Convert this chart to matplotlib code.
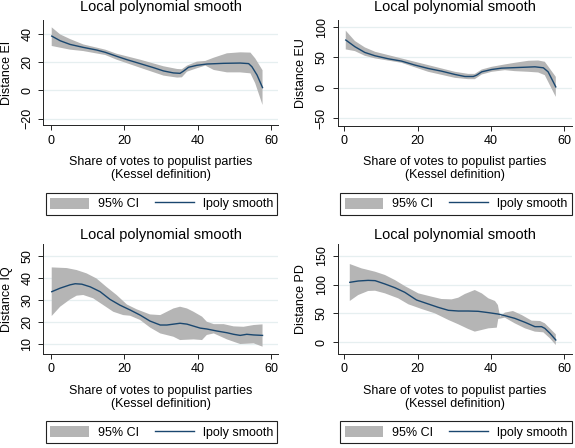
import numpy as np
import matplotlib
matplotlib.use("Agg")
import matplotlib.pyplot as plt

plt.rcParams['font.family'] = ['Liberation Sans', 'DejaVu Sans']

# --- data (x = share of votes, y = distance) ---
ei_x = [0.2, 2.5, 5.2, 8.8, 12.5, 14.8, 17.9, 20.7, 24.3, 28.0, 30.7, 33.4, 35.2, 36.2, 37.5, 39.8, 42.5, 47.1, 51.6, 53.9, 54.8, 56.2, 57.7]
ei_fit = [38.4, 35.1, 32.5, 30.4, 28.5, 26.9, 24.1, 21.7, 18.9, 16.0, 13.7, 12.3, 12.0, 13.7, 16.3, 17.7, 18.6, 19.1, 19.3, 18.9, 16.7, 10.8, 1.9]
ei_ci_x = [0.2, 2.5, 5.2, 8.8, 14.8, 17.9, 24.3, 30.7, 34.4, 35.7, 37.1, 39.8, 42.1, 44.4, 48.0, 51.6, 54.4, 55.7, 57.7]
ei_hi = [44.6, 39.6, 36.3, 32.5, 28.8, 25.9, 21.7, 17.0, 15.1, 14.9, 17.5, 20.3, 20.8, 23.1, 26.2, 26.9, 26.7, 22.6, 14.2]
ei_lo = [31.4, 30.2, 28.8, 27.8, 25.0, 21.7, 16.0, 10.4, 9.0, 9.2, 13.2, 15.6, 17.5, 14.4, 12.7, 12.7, 12.0, 5.0, -10.4]

eu_x = [0.4, 2.9, 5.6, 8.4, 12.0, 15.6, 19.3, 22.9, 26.5, 30.2, 32.9, 35.2, 36.1, 37.5, 40.2, 42.9, 47.5, 52.0, 54.3, 55.6, 57.7]
eu_fit = [78.6, 67.6, 58.2, 52.7, 47.8, 44.0, 37.4, 31.9, 27.5, 22.0, 18.7, 18.7, 20.9, 26.4, 30.2, 32.4, 33.5, 34.6, 33.0, 26.4, 1.6]
eu_ci_x = [0.4, 2.9, 5.6, 8.4, 15.6, 22.9, 30.2, 33.8, 35.6, 37.5, 40.2, 43.8, 46.5, 50.2, 52.9, 54.7, 57.7]
eu_hi = [94.0, 77.0, 66.5, 59.3, 48.4, 37.4, 26.4, 23.0, 23.0, 30.2, 34.6, 38.5, 41.2, 44.5, 45.0, 42.9, 18.1]
eu_lo = [63.2, 60.4, 52.7, 48.4, 41.2, 26.4, 16.5, 14.3, 14.3, 22.0, 26.4, 29.1, 27.5, 26.4, 25.3, 20.9, -14.8]

iq_x = [0.2, 2.5, 5.2, 6.6, 8.4, 10.7, 13.4, 16.1, 18.8, 21.6, 24.3, 27.0, 29.8, 31.6, 33.4, 35.2, 37.1, 38.9, 40.7, 42.5, 45.2, 48.0, 49.8, 51.6, 53.4, 55.3, 57.7]
iq_fit = [33.7, 35.3, 36.8, 37.3, 37.1, 35.9, 33.7, 30.2, 27.6, 25.4, 23.1, 20.4, 18.6, 18.6, 19.0, 19.4, 19.0, 18.1, 17.2, 16.8, 15.9, 15.1, 14.4, 13.9, 14.4, 14.1, 13.9]
iq_hi_x = [0.2, 4.3, 7.0, 9.7, 12.4, 15.1, 17.9, 20.7, 23.4, 27.0, 29.8, 31.6, 33.4, 35.2, 37.1, 38.9, 41.2, 42.5, 44.4, 47.1, 49.8, 52.5, 55.3, 57.7]
iq_hi = [44.7, 44.4, 43.5, 42.0, 39.7, 35.9, 32.2, 27.9, 25.7, 23.4, 23.1, 24.6, 26.1, 26.9, 26.1, 24.6, 22.4, 20.1, 19.0, 19.0, 18.0, 17.8, 18.6, 18.9]
iq_lo_x = [0.2, 2.5, 5.2, 7.0, 8.8, 11.5, 14.3, 17.0, 19.7, 21.6, 24.3, 27.0, 29.8, 33.4, 35.2, 38.9, 41.2, 42.5, 44.4, 48.0, 51.6, 55.3, 57.7]
iq_lo = [22.7, 26.9, 30.2, 31.9, 32.2, 30.7, 27.6, 24.6, 23.1, 22.8, 20.9, 17.5, 14.8, 13.3, 11.8, 12.1, 11.8, 14.1, 14.8, 12.1, 10.0, 10.3, 8.8]

pd_x = [1.5, 3.8, 6.5, 8.4, 11.1, 13.8, 16.5, 19.7, 22.9, 25.6, 28.4, 31.1, 33.8, 36.5, 39.3, 41.9, 43.8, 46.5, 49.3, 52.0, 53.8, 54.7, 56.1, 57.7]
pd_fit = [103.9, 106.2, 107.3, 106.8, 101.0, 94.6, 86.6, 73.3, 66.4, 60.6, 55.4, 54.2, 54.2, 53.7, 51.4, 49.0, 46.2, 41.5, 34.6, 27.1, 27.1, 24.2, 15.6, 4.0]
pd_hi_x = [1.5, 4.7, 8.4, 11.1, 13.8, 16.5, 20.2, 23.8, 26.5, 29.3, 31.1, 32.9, 35.6, 37.5, 39.3, 41.1, 41.9, 42.5, 43.8, 46.0, 48.4, 51.1, 53.4, 54.7, 57.7]
pd_hi = [135.6, 128.1, 122.3, 116.6, 107.9, 97.5, 84.8, 79.1, 75.0, 74.4, 77.3, 83.7, 90.6, 84.8, 76.2, 71.6, 64.6, 44.4, 51.4, 54.2, 47.3, 37.5, 36.9, 32.9, 13.8]
pd_lo_x = [1.5, 3.8, 6.5, 8.4, 11.1, 14.7, 17.5, 21.1, 24.7, 28.4, 31.1, 33.8, 35.6, 37.5, 39.3, 41.6, 42.0, 43.8, 46.5, 49.3, 52.0, 54.3, 56.1, 57.7]
pd_lo = [71.6, 81.9, 88.9, 89.4, 84.8, 76.2, 65.8, 57.7, 50.2, 38.7, 31.2, 23.1, 18.5, 21.4, 24.2, 25.4, 40.4, 42.7, 32.9, 24.2, 18.5, 17.3, 6.9, -4.6]

W, H = 575, 448
fig = plt.figure(figsize=(W / 100, H / 100), dpi=100)

navy = '#1a476f'
ci_gray = '#b5b5b5'
grid_col = '#e6eff0'


def fx(px):
    return px / W


def fy(py):
    return 1 - py / H


def panel(box, xlim, ylim, yticks, ylabel, x, fit, hx, hi, lx, lo, ylab_x, title_y, xlab_y, leg_y):
    l, t, r, b = box
    ax = fig.add_axes([fx(l), fy(b), fx(r - l), (b - t) / H])
    ax.set_xlim(*xlim)
    ax.set_ylim(*ylim)
    # confidence band as a polygon: upper edge then lower edge reversed
    band = ax.fill(list(hx) + list(lx)[::-1], list(hi) + list(lo)[::-1],
                   color=ci_gray, lw=0, zorder=2)[0]
    line, = ax.plot(x, fit, color=navy, lw=1.0, zorder=3)
    ax.set_xticks([0, 20, 40, 60])
    ax.set_yticks(yticks)
    for yv in yticks:
        ax.axhline(yv, color=grid_col, lw=0.9, zorder=1)
    for s in ['top', 'right']:
        ax.spines[s].set_visible(False)
    for s in ['left', 'bottom']:
        ax.spines[s].set_linewidth(0.7)
        ax.spines[s].set_color('#222222')
    ax.tick_params(direction='out', length=3.6, width=0.7, labelsize=9, pad=3.5, color='#222222')
    ax.tick_params(axis='y', labelrotation=90)
    for lab in ax.get_yticklabels():
        lab.set_va('center')
    cx = (l + r) / 2
    fig.text(fx(cx), fy(title_y), 'Local polynomial smooth', ha='center', va='center', fontsize=10.5)
    fig.text(fx(ylab_x), fy((t + b) / 2), ylabel, ha='center', va='center', rotation=90, fontsize=9)
    fig.text(fx(cx), fy(xlab_y), 'Share of votes to populist parties\n(Kessel definition)',
             ha='center', va='center', fontsize=9, linespacing=1.15)
    leg = ax.legend([band, line], ['95% CI', 'lpoly smooth'], ncol=2, loc='center',
                    bbox_to_anchor=(fx(cx + 1), fy(leg_y)), bbox_transform=fig.transFigure,
                    fontsize=9, frameon=True, fancybox=False, edgecolor='#222222',
                    handlelength=3.1, handleheight=1.0, handletextpad=0.7, columnspacing=1.3,
                    borderpad=0.35, framealpha=1)
    leg.get_frame().set_linewidth(0.8)
    return ax


panel((43.3, 20, 278.3, 125), (-2.1, 62.0), (-24.6, 49.8), [-20, 0, 20, 40], 'Distance EI',
      ei_x, ei_fit, ei_ci_x, ei_hi, ei_ci_x, ei_lo, 7.5, 7.5, 168.4, 204)
panel((337.7, 20, 572.3, 125.5), (-1.8, 62.2), (-61.8, 111.5), [-50, 0, 50, 100], 'Distance EU',
      eu_x, eu_fit, eu_ci_x, eu_hi, eu_ci_x, eu_lo, 300.5, 7.5, 168.4, 204)
panel((43.3, 244, 278.3, 353.5), (-2.1, 62.0), (5.7, 55.3), [10, 20, 30, 40, 50], 'Distance IQ',
      iq_x, iq_fit, iq_hi_x, iq_hi, iq_lo_x, iq_lo, 7.5, 235, 397.3, 432.3)
panel((337.7, 244, 572.3, 353.5), (-1.8, 62.2), (-19.4, 170.3), [0, 50, 100, 150], 'Distance PD',
      pd_x, pd_fit, pd_hi_x, pd_hi, pd_lo_x, pd_lo, 300.5, 235, 397.3, 432.3)

fig.savefig('out.png', dpi=100)
